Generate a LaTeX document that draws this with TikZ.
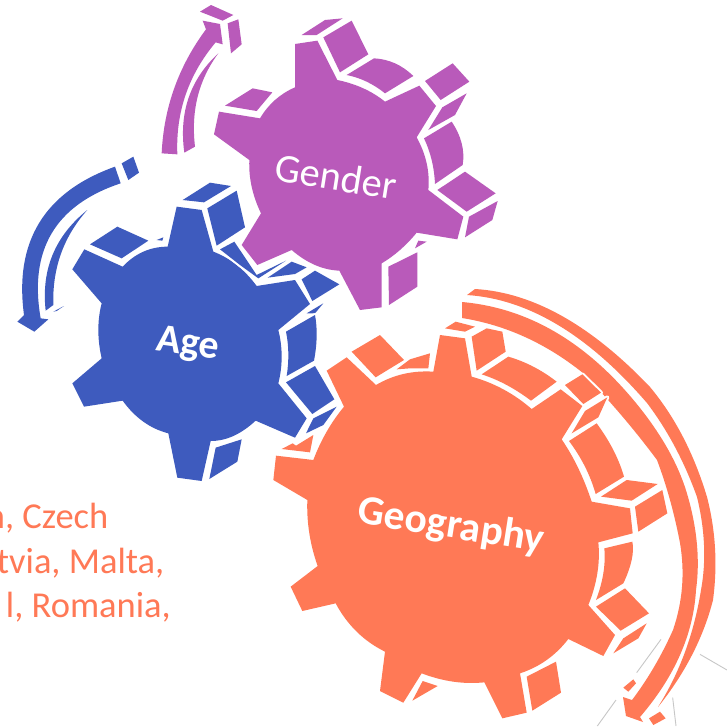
\documentclass[tikz,border=0pt]{standalone}
\usepackage{fontspec}
\usetikzlibrary{calc}
\setmainfont{Carlito}
\definecolor{gpurple}{HTML}{B95ABA}
\definecolor{gblue}{HTML}{3E5BBE}
\definecolor{gorange}{HTML}{FF7956}
\def\thru(#1)(#2)(#3){.. controls ($1.3333*(#2)-0.3333*(#3)$) and ($1.3333*(#2)-0.3333*(#1)$) .. (#3)}
\tikzset{
  halo/.style={preaction={draw=white,line width=4pt,line join=round}},
  pur/.style={fill=gpurple,halo},
  blu/.style={fill=gblue,halo},
  ora/.style={fill=gorange,halo},
  gearlabel/.style={text=white,inner sep=0pt,font=\fontsize{40.5}{40.5}\selectfont},
  sidetext/.style={text=gorange,inner sep=0pt,anchor=base east,font=\fontsize{36.5}{36.5}\selectfont},
  faint/.style={draw=black!22,line width=0.9pt},
  zoomgeo/.style={xshift=270pt,yshift=-280pt,x=0.33333pt,y=-0.33333pt},
  zoomgen/.style={xshift=150pt,yshift=0pt,x=0.33333pt,y=-0.33333pt},
  zoomage/.style={xshift=0pt,yshift=-150pt,x=0.33333pt,y=-0.33333pt},
  zoomtip/.style={xshift=580pt,yshift=-620pt,x=0.33333pt,y=-0.33333pt}
}
\begin{document}
\begin{tikzpicture}[x=1pt,y=-1pt]
\useasboundingbox (0,0) rectangle (727,726);
\clip (0,0) rectangle (727,726);
\fill[white] (0,0) rectangle (727,726);

% faint lines at the lower right
\begin{scope}[zoomtip]
\coordinate (f1a) at (243,58); \coordinate (f1b) at (170,158);
\coordinate (f2a) at (108,240); \coordinate (f2b) at (52,318);
\coordinate (f3a) at (278,233); \coordinate (f3b) at (288,318);
\coordinate (f4a) at (360,103); \coordinate (f4b) at (441,150);
\draw[faint] (f1a) -- (f1b);
\draw[faint] (f2a) -- (f2b);
\draw[faint] (f3a) -- (f3b);
\draw[faint] (f4a) -- (f4b);
\end{scope}

% side text
\node[sidetext] (t1) at (108.5,528) {n, Czech};
\node[sidetext] (t2) at (164.5,573) {tvia, Malta,};
\node[sidetext] (t3) at (171,617) {l, Romania,};

% Geography arrow, in picture pixels
\path[ora] (467,295) -- (475,289)
  \thru(475,289)(562,316)(650,387)
  \thru(650,387)(683,437)(707,497)
  \thru(707,497)(715,548)(713,600)
  \thru(713,600)(692,655)(658,707)
  \thru(658,707)(685,652)(701,590)
  \thru(701,590)(704,545)(697,497)
  \thru(697,497)(675,447)(647,403)
  \thru(647,403)(558,325)(467,295)
  -- cycle;
\path[ora] (462,302)
  \thru(462,302)(557,333)(640,408)
  \thru(640,408)(670,453)(688,497)
  \thru(688,497)(697,545)(696,590)
  \thru(696,590)(680,655)(640,717)
  -- (643,722) -- (626,716) -- (623,697) -- (632,700)
  \thru(632,700)(654,667)(673,630)
  \thru(673,630)(682,587)(680,543)
  \thru(680,543)(670,500)(657,460)
  \thru(657,460)(622,416)(583,373)
  \thru(583,373)(525,337)(462,318)
  -- cycle;

% GEOGRAPHY
\begin{scope}[zoomgeo]
\path[ora] (510,165) -- (585,175) -- (605,290)
  \thru(605,290)(700,328)(785,387)
  -- (872,328) -- (937,378) -- (875,478)
  \thru(875,478)(925,565)(965,665)
  -- (1080,685) -- (1088,760) -- (985,787)
  \thru(985,787)(982,880)(955,975)
  -- (1035,1065) -- (1000,1128) -- (895,1077)
  \thru(895,1077)(830,1140)(750,1180)
  -- (770,1298) -- (697,1315) -- (643,1207)
  \thru(643,1207)(550,1205)(455,1180)
  -- (400,1268) -- (330,1233) -- (345,1115)
  \thru(345,1115)(260,1055)(197,970)
  -- (97,993) -- (62,920) -- (143,858)
  \thru(143,858)(118,760)(112,660)
  -- (10,600) -- (18,527) -- (130,540)
  \thru(130,540)(170,455)(222,380)
  -- (170,272) -- (230,232) -- (318,315)
  \thru(318,315)(400,282)(490,275)
  -- cycle;
\path[ora] (525,145) -- (557,125) -- (615,140) -- (585,155) -- cycle;
\path[ora] (605,170) -- (650,145) -- (697,155) -- (707,215) -- (620,272) -- cycle;
\path[ora] (635,283) -- (715,230)
  \thru(715,230)(790,260)(860,305)
  -- (783,362)
  \thru(783,362)(710,315)(635,283) -- cycle;
\path[ora] (885,315) -- (937,283) -- (993,338) -- (940,372) -- cycle;
\path[ora] (905,460) -- (945,393) -- (1012,352) -- (985,412) -- cycle;
\path[ora] (897,483) -- (980,430)
  \thru(980,430)(1030,510)(1062,590)
  -- (977,642)
  \thru(977,642)(945,560)(897,483) -- cycle;
\path[ora] (993,650) -- (1070,600) -- (1163,612) -- (1085,662) -- cycle;
\path[ora] (1095,680) -- (1177,630) -- (1192,700) -- (1105,755) -- cycle;
\path[ora] (1003,805) -- (1087,785)
  \thru(1087,785)(1085,840)(1060,910)
  -- (978,960)
  \thru(978,960)(1000,880)(1003,805) -- cycle;
\path[ora] (978,980) -- (1065,925) -- (1137,1000) -- (1052,1052) -- cycle;
\path[ora] (1030,1120) -- (1060,1075) -- (1130,1030) -- (1105,1075) -- cycle;
\path[ora] (770,1190) -- (858,1145) -- (873,1238) -- (787,1292) -- cycle;
\path[ora] (427,1262) -- (458,1203) -- (503,1218) -- cycle;
\path[ora] (245,215) -- (330,165) -- (402,240) -- (317,292) -- cycle;
\path[ora] (380,268) -- (420,238) -- (480,220) -- (475,265) -- (420,265) -- cycle;
\path[ora] (35,507) -- (68,490) -- (78,497) -- (130,465) -- (120,517) -- cycle;
\path[ora] (1060,1223) -- (1090,1198) -- (1098,1210) -- (1075,1235) -- cycle;
\path[ora] (1137,1315) -- (1170,1295) -- (1187,1315) -- (1150,1335) -- cycle;
\end{scope}

% GENDER
\begin{scope}[zoomgen]
\path[pur] (435,132) -- (502,122) -- (562,240)
  \thru(562,240)(640,265)(705,305)
  -- (808,257) -- (858,318) -- (800,412)
  \thru(800,412)(830,490)(835,570)
  -- (940,650) -- (922,718) -- (800,698)
  \thru(800,698)(750,750)(695,790)
  -- (695,922) -- (630,930) -- (568,812)
  \thru(568,812)(495,795)(425,750)
  -- (322,795) -- (275,735) -- (333,640)
  \thru(333,640)(305,560)(298,480)
  -- (192,403) -- (207,335) -- (330,355)
  \thru(330,355)(375,300)(435,262)
  -- cycle;
\path[pur] (455,105) -- (525,60) -- (578,55) -- (500,105) -- cycle;
\path[pur] (520,112) -- (605,62) -- (655,163) -- (570,217) -- cycle;
\path[pur] (590,225) -- (672,175)
  \thru(672,175)(735,190)(790,228)
  -- (705,280)
  \thru(705,280)(650,245)(590,225) -- cycle;
\path[pur] (825,243) -- (908,190) -- (958,245) -- (872,300) -- cycle;
\path[pur] (877,322) -- (950,280) -- (915,345) -- (835,390) -- cycle;
\path[pur] (822,415) -- (905,365)
  \thru(905,365)(935,430)(938,495)
  -- (855,552)
  \thru(855,552)(845,480)(822,415) -- cycle;
\path[pur] (862,570) -- (945,515) -- (1037,580) -- (950,635) -- cycle;
\path[pur] (957,650) -- (1043,603) -- (1027,660) -- (945,712) -- cycle;
\path[pur] (805,722) -- (830,725) -- (795,745) -- cycle;
\path[pur] (715,800) -- (802,757) -- (802,860) -- (717,915) -- cycle;
\path[pur] (225,317) -- (308,265) -- (367,277) -- (320,333) -- cycle;
% Gender arrow
\path[pur] (35,460)
  \thru(35,460)(73,264)(168,88)
  -- (158,62) -- (210,72) -- (218,133) -- (197,127)
  \thru(197,127)(107,284)(82,463)
  -- cycle;
\path[pur] (103,458) -- (135,440)
  \thru(135,440)(143,290)(205,160)
  \thru(205,160)(116,293)(103,458)
  -- cycle;
\path[pur] (150,35) -- (183,15) -- (250,45) -- (218,62) -- cycle;
\path[pur] (233,70) -- (265,58) -- (275,133) -- (243,160) -- cycle;
\node[gearlabel,rotate=-9] (gender) at (559,530) {Gender};
\end{scope}

% AGE
\begin{scope}[zoomage]
\path[blu] (530,170) -- (605,180) -- (640,305)
  \thru(640,305)(710,345)(770,408)
  -- (885,390) -- (930,462) -- (835,540)
  \thru(835,540)(845,620)(835,700)
  -- (920,805) -- (885,863) -- (767,812)
  \thru(767,812)(700,858)(632,873)
  -- (605,993) -- (532,983) -- (505,850)
  \thru(505,850)(430,815)(368,752)
  -- (252,770) -- (217,700) -- (305,625)
  \thru(305,625)(295,540)(305,460)
  -- (217,358) -- (253,298) -- (368,350)
  \thru(368,350)(430,305)(503,290)
  -- cycle;
\path[blu] (548,150) -- (630,98) -- (693,108) -- (612,157) -- cycle;
\path[blu] (622,175) -- (710,122) -- (735,232) -- (650,287) -- cycle;
\path[blu] (660,298) -- (703,275) -- (770,375) -- (858,332) -- (775,385) -- (720,345) -- cycle;
\path[blu] (803,383) -- (875,335) -- (920,352) -- (885,372) -- cycle;
\path[blu] (905,388) -- (945,362) -- (1018,403) -- (937,453) -- cycle;
\path[blu] (920,490) -- (970,460) -- (945,490) -- cycle;
\path[blu] (858,545) -- (945,495)
  \thru(945,495)(950,560)(942,632)
  -- (860,678)
  \thru(860,678)(865,610)(858,545) -- cycle;
\path[blu] (858,697) -- (945,648) -- (1003,748) -- (937,792) -- cycle;
\path[blu] (918,850) -- (940,805) -- (1010,770) -- (970,825) -- cycle;
\path[blu] (628,987) -- (647,893) -- (725,868) -- (712,935) -- cycle;
\path[blu] (470,270) -- (490,262) -- (487,272) -- cycle;
\path[blu] (270,283) -- (352,230) -- (445,272) -- (365,325) -- cycle;
% Age arrow
\path[blu] (345,50)
  \thru(345,50)(118,218)(72,495)
  -- (52,515) -- (103,545) -- (145,508) -- (122,505)
  \thru(122,505)(155,250)(362,100)
  -- cycle;
\path[blu] (262,180)
  \thru(262,180)(183,311)(160,465)
  -- (137,482)
  \thru(137,482)(158,314)(262,180)
  -- cycle;
\path[blu] (160,485) -- (192,468) -- (170,483) -- cycle;
\path[blu] (365,40) -- (400,20) -- (417,68) -- (385,90) -- cycle;
\node[gearlabel,rotate=-8,font=\bfseries\fontsize{40}{40}\selectfont] (age) at (563,585) {Age};
\end{scope}

\begin{scope}[zoomgeo]
\node[gearlabel,rotate=-9,font=\bfseries\fontsize{41.5}{41.5}\selectfont] (geography) at (543,740) {Geography};
\end{scope}
\end{tikzpicture}
\end{document}
